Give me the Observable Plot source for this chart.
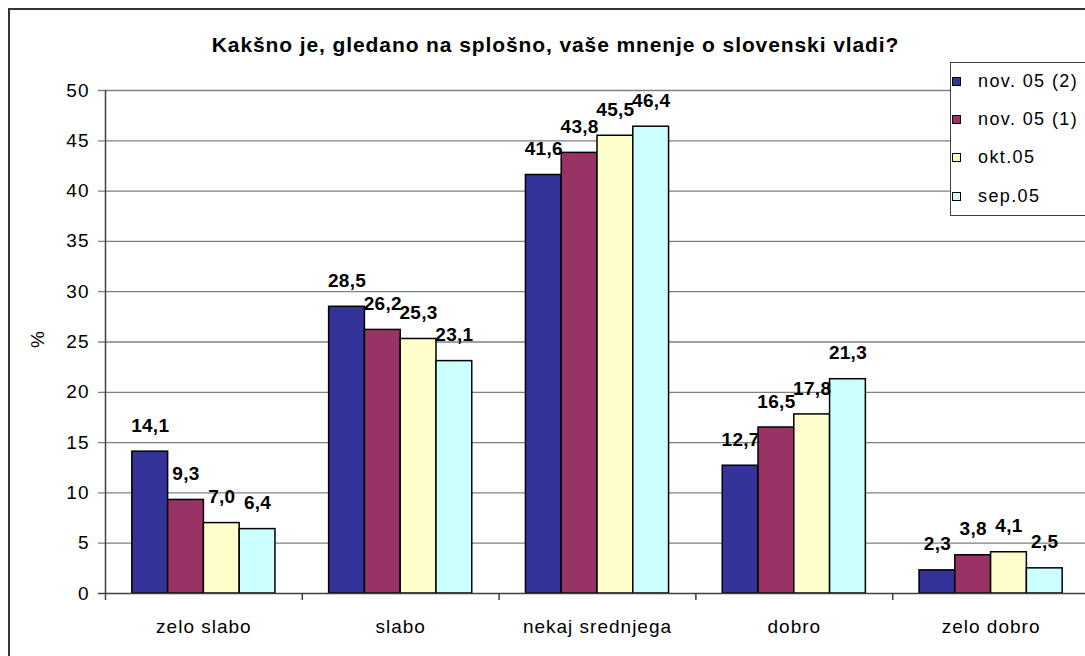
<!DOCTYPE html>
<html>
<head>
<meta charset="utf-8">
<script src="https://cdn.jsdelivr.net/npm/d3@7"></script>
<script src="https://cdn.jsdelivr.net/npm/@observablehq/plot@0.6"></script>
<style>
html, body { margin: 0; padding: 0; background: #fff; width: 1085px; height: 656px; overflow: hidden; }
#wrap { position: relative; width: 1085px; height: 656px; font-family: "Liberation Sans", Arial, sans-serif; }
#chart { position: absolute; left: 0; top: 0; }
#chart svg text { letter-spacing: 1px; }
#chart g[font-size="21"] text { letter-spacing: 0.9px; }
#chart g[font-weight="bold"][font-size="19"] text { letter-spacing: 0.3px; }
#frame { position: absolute; left: 8px; top: 8px; width: 1100px; height: 700px; border: 2px solid #333; box-sizing: border-box; pointer-events: none; }
#legend { position: absolute; left: 950px; top: 62px; width: 150px; height: 154px; border: 1.5px solid #404040; background: #fff; box-sizing: border-box; }
.item { position: absolute; left: 1px; height: 20px; display: flex; align-items: center; font-size: 18px; letter-spacing: 1.4px; color: #000; white-space: nowrap; }
.sw { width: 7px; height: 7px; border: 1px solid #000; margin-right: 17px; flex: none; }
</style>
</head>
<body>
<div id="wrap">
  <div id="chart"></div>
  <div id="legend"></div>
  <div id="frame"></div>
</div>
<script>
// ---- data ----
const title = "Kakšno je, gledano na splošno, vaše mnenje o slovenski vladi?";
const yLabel = "%";
const categories = ["zelo slabo", "slabo", "nekaj srednjega", "dobro", "zelo dobro"];
const series = ["nov. 05 (2)", "nov. 05 (1)", "okt.05", "sep.05"];
const colors = ["#333399", "#993366", "#FFFFCC", "#CCFFFF"];
const nov05_2 = [14.1, 28.5, 41.6, 12.7, 2.3];
const nov05_1 = [9.3, 26.2, 43.8, 16.5, 3.8];
const okt05 = [7.0, 25.3, 45.5, 17.8, 4.1];
const sep05 = [6.4, 23.1, 46.4, 21.3, 2.5];
const yTicks = [0, 5, 10, 15, 20, 25, 30, 35, 40, 45, 50];

// ---- build table ----
const values = [nov05_2, nov05_1, okt05, sep05];
const rows = [];
categories.forEach((c, ci) => series.forEach((s, si) => rows.push({category: c, ci, series: s, si, value: values[si][ci]})));

const slots = series.length + 1.5; // bars plus outer gaps of 0.75 bar each
const bx1 = d => d.ci + (0.75 + d.si) / slots;
const bx2 = d => d.ci + (1.75 + d.si) / slots;
const bxc = d => d.ci + (1.25 + d.si) / slots;
const fmt = v => v.toFixed(1).replace(".", ",");

const chart = Plot.plot({
  width: 1085,
  height: 656,
  marginLeft: 105,
  marginRight: 0,
  marginTop: 90,
  marginBottom: 63,
  style: {fontFamily: '"Liberation Sans", Arial, sans-serif', fontSize: "19px", background: "#fff", color: "#000"},
  x: {domain: [0, categories.length], range: [105, 1089], axis: null},
  y: {domain: [0, 50], axis: null},
  color: {domain: series, range: colors},
  marks: [
    Plot.ruleY(yTicks.filter(t => t > 0), {stroke: "#808080", strokeWidth: 1.3, insetLeft: -7}),
    Plot.rectY(rows, {x1: bx1, x2: bx2, y1: 0, y2: "value", fill: "series", stroke: "#000", strokeWidth: 1.5}),
    Plot.ruleY([0], {stroke: "#404040", strokeWidth: 1.5, insetLeft: -7}),
    Plot.ruleX([0], {y1: 50, y2: 0, insetBottom: -7, stroke: "#404040", strokeWidth: 1.5}),
    Plot.ruleX(d3.range(1, categories.length), {y1: 0, y2: 0, insetBottom: -7, stroke: "#404040", strokeWidth: 1.5}),
    Plot.text(rows, {x: bxc, y: "value", text: d => fmt(d.value), dy: -26, fontWeight: "bold", fontSize: 19, lineAnchor: "middle", fill: "#000"}),
    Plot.text(categories, {x: (d, i) => i + 0.5, y: 0, dy: 26, lineAnchor: "top", fontSize: 19, fill: "#000"}),
    Plot.text(yTicks, {y: d => d, text: d => String(d), frameAnchor: "left", dx: -16, textAnchor: "end", lineAnchor: "middle", fontSize: 19, fill: "#000"}),
    Plot.text([yLabel], {frameAnchor: "left", dx: -68, dy: 6, rotate: -90, fontSize: 19, fill: "#000"}),
    Plot.text([title], {frameAnchor: "top", dx: -40, dy: -45, fontWeight: "bold", fontSize: 21, lineAnchor: "middle", fill: "#000"})
  ]
});
document.getElementById("chart").appendChild(chart);

// ---- legend ----
const legend = d3.select("#legend");
series.forEach((s, i) => {
  const item = legend.append("div").attr("class", "item").style("top", (8 + i * 38.4) + "px");
  item.append("div").attr("class", "sw").style("background", colors[i]);
  item.append("span").text(s);
});
</script>
</body>
</html>
